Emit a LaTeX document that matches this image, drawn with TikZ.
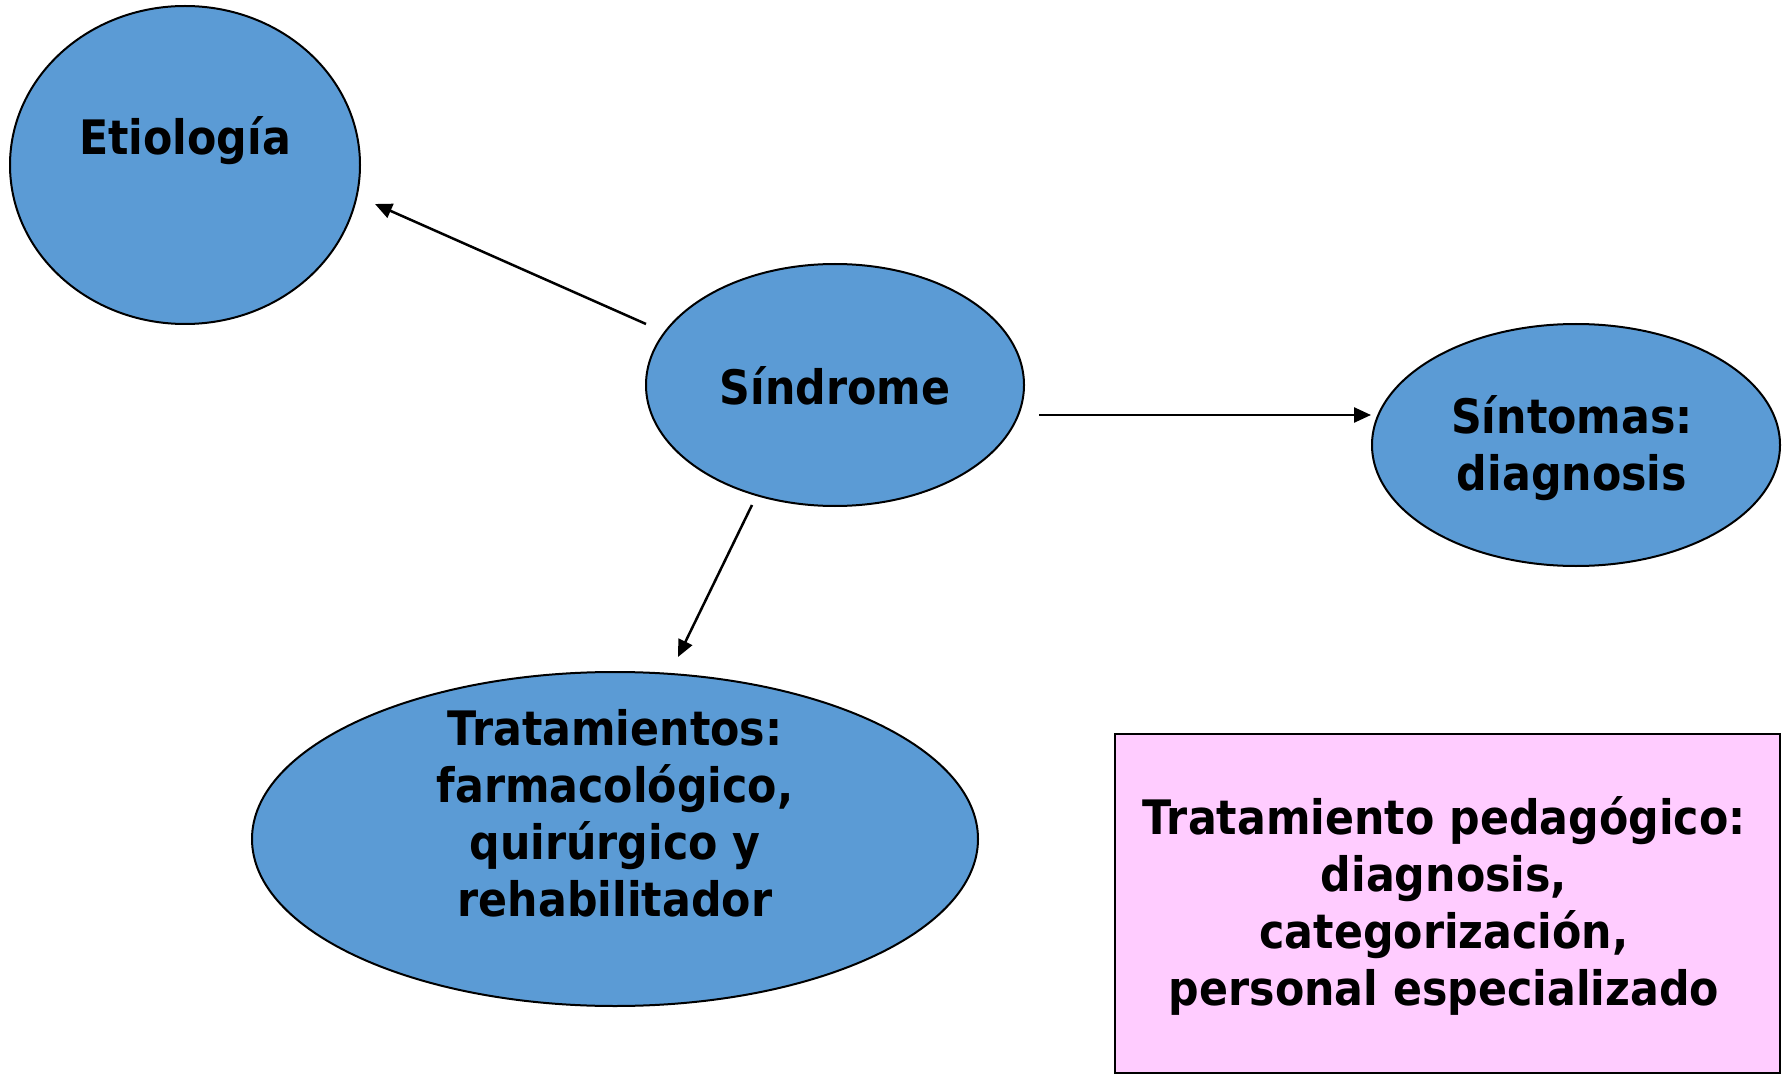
\documentclass[tikz,border=0pt]{standalone}
\usepackage{fontspec}
\setmainfont{DejaVu Sans}[FakeStretch=0.9]
\usetikzlibrary{shapes.geometric,arrows.meta}
\definecolor{blobblue}{HTML}{5B9BD5}
\definecolor{pinkfill}{HTML}{FFCCFF}
\tikzset{
  blob/.style={ellipse, draw=black, line width=2pt, fill=blobblue, inner sep=0pt},
  lbl/.style={font=\fontsize{47.5}{57}\selectfont\bfseries, align=center, inner sep=0pt},
  conn/.style={line width=2.5pt, -{Triangle[length=17pt,width=15pt]}}
}
\begin{document}
\begin{tikzpicture}[x=1pt,y=-1pt]
\useasboundingbox (0,0) rectangle (1789,1075);
% ellipses
\node[blob, minimum width=350pt, minimum height=318pt] (etio) at (185,165) {};
\node[blob, minimum width=378pt, minimum height=242pt] (sind) at (835,385) {};
\node[blob, minimum width=408pt, minimum height=242pt] (sint) at (1576,445) {};
\node[blob, minimum width=726pt, minimum height=334pt] (trat) at (615,839) {};
\node[draw=black, line width=2pt, fill=pinkfill, minimum width=665pt, minimum height=339pt, inner sep=0pt] (peda) at (1447.5,903) {};
% labels
\node[lbl] (etioT) at (185,141) {Etiología};
\node[lbl] (sindT) at (835,386) {Síndrome};
\node[lbl] (sintT) at (1572,448) {Síntomas:\\ diagnosis};
\node[lbl] (tratT) at (615,813) {Tratamientos:\\ farmacológico,\\ quirúrgico y\\ rehabilitador};
\node[lbl] (pedaT) at (1444,906) {Tratamiento pedagógico:\\ diagnosis,\\ categorización,\\ personal especializado};
% connector ends
\coordinate (a1) at (646,324);
\coordinate (a1e) at (375,204);
\coordinate (a2) at (1039,415);
\coordinate (a2e) at (1371,415);
\coordinate (a3) at (752,505);
\coordinate (a3e) at (678,657);
\draw[conn] (a1) -- (a1e);
\draw[conn] (a2) -- (a2e);
\draw[conn] (a3) -- (a3e);
\end{tikzpicture}
\end{document}
